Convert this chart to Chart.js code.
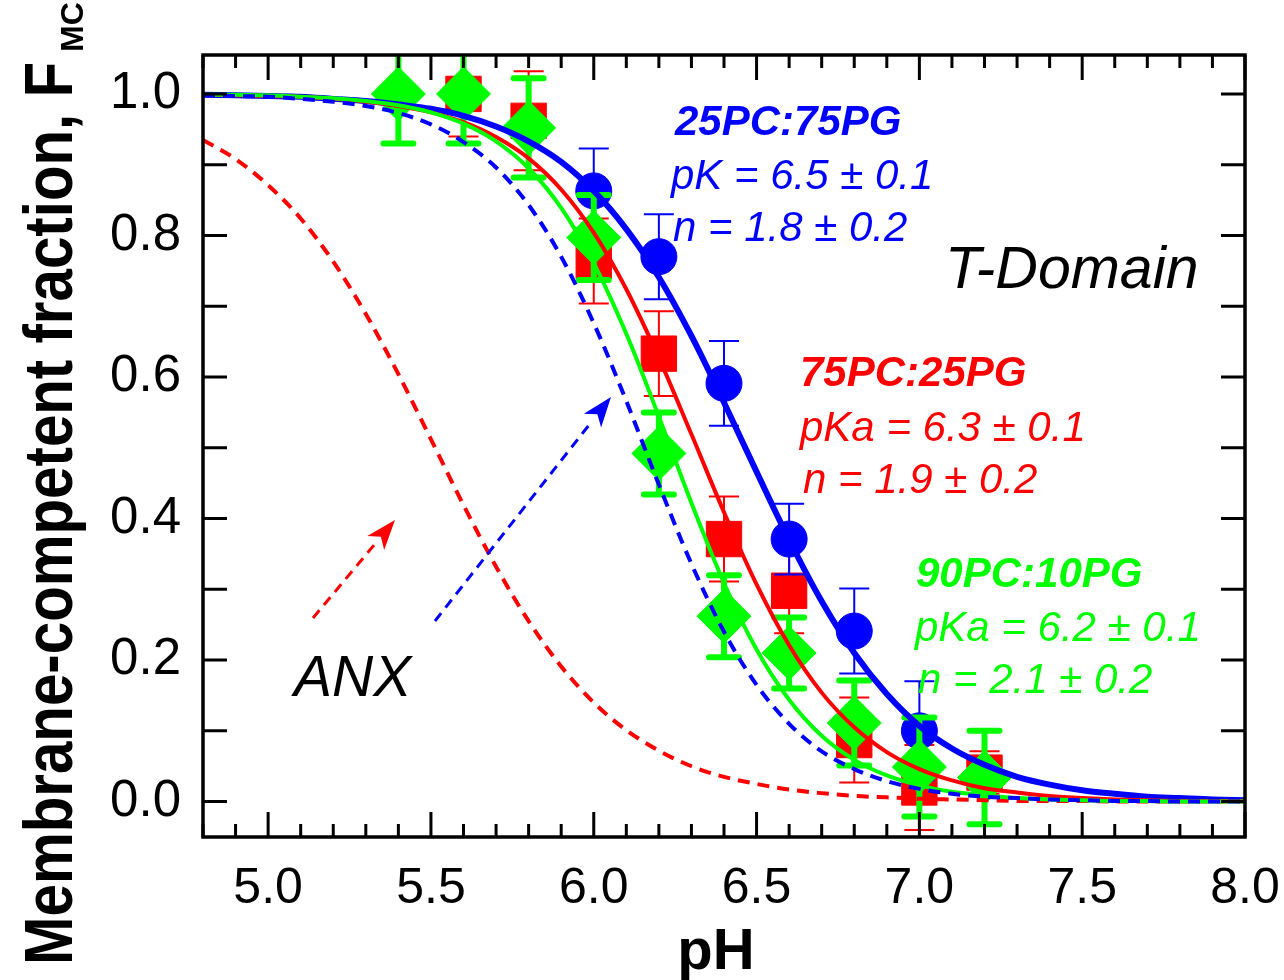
<!DOCTYPE html>
<html>
<head>
<meta charset="utf-8">
<script src="https://cdn.jsdelivr.net/npm/chart.js@4.4.0/dist/chart.umd.min.js"></script>
<style>
  html, body { margin: 0; background: #fff; }
  #wrap { width: 1284px; height: 980px; }
</style>
</head>
<body>
<div id="wrap"><canvas id="c"></canvas></div>
<script>
// tick labels
const xTicks = [5.0, 5.5, 6.0, 6.5, 7.0, 7.5, 8.0];
const yTicks = [0.0, 0.2, 0.4, 0.6, 0.8, 1.0];

// measured points (pH, fraction, error)
const phBlue = [6.0, 6.2, 6.4, 6.6, 6.8, 7.0];
const fBlue = [0.863, 0.770, 0.591, 0.371, 0.241, 0.100];
const errBlue = [0.06, 0.06, 0.06, 0.05, 0.06, 0.07];

const phRed = [5.6, 5.8, 6.0, 6.2, 6.4, 6.6, 6.8, 7.0, 7.2];
const fRed = [1.0, 0.962, 0.764, 0.633, 0.371, 0.298, 0.087, 0.020, 0.041];
const errRed = [0.06, 0.07, 0.06, 0.06, 0.06, 0.06, 0.06, 0.06, 0.03];

const phGreen = [5.4, 5.6, 5.8, 6.0, 6.2, 6.4, 6.6, 6.8, 7.0, 7.2];
const fGreen = [1.0, 1.0, 0.952, 0.797, 0.492, 0.262, 0.210, 0.111, 0.049, 0.034];
const errGreen = [0.07, 0.07, 0.07, 0.06, 0.058, 0.058, 0.05, 0.06, 0.07, 0.066];

// fitted curves, pH 4.8 .. 8.0
const phFit = [4.8, 4.9, 5.0, 5.1, 5.2, 5.3, 5.4, 5.5, 5.6, 5.7, 5.8, 5.9, 6.0,
  6.1, 6.2, 6.3, 6.4, 6.5, 6.6, 6.7, 6.8, 6.9, 7.0,
  7.1, 7.2, 7.3, 7.4, 7.5, 7.6, 7.7, 7.8, 7.9, 8.0];
const fitBlue = [0.999, 0.998, 0.997, 0.996, 0.993, 0.990, 0.985, 0.979, 0.969, 0.954, 0.933, 0.904, 0.863,
  0.809, 0.741, 0.658, 0.564, 0.466, 0.370, 0.283, 0.210, 0.152, 0.107,
  0.075, 0.052, 0.035, 0.024, 0.016, 0.011, 0.007, 0.005, 0.003, 0.002];
const fitRed = [0.999, 0.998, 0.997, 0.996, 0.993, 0.989, 0.983, 0.974, 0.960, 0.939, 0.909, 0.865, 0.804,
  0.724, 0.627, 0.519, 0.409, 0.307, 0.221, 0.154, 0.105, 0.070, 0.046,
  0.030, 0.019, 0.013, 0.008, 0.005, 0.003, 0.002, 0.001, 0.001, 0.001];
const fitGreen = [0.999, 0.999, 0.998, 0.996, 0.994, 0.990, 0.984, 0.974, 0.958, 0.933, 0.895, 0.839, 0.761,
  0.661, 0.544, 0.422, 0.309, 0.215, 0.144, 0.093, 0.059, 0.037, 0.023,
  0.014, 0.009, 0.005, 0.003, 0.002, 0.001, 0.001, 0.000, 0.000, 0.000];
const fitBlueDash = [0.998, 0.997, 0.996, 0.993, 0.989, 0.983, 0.973, 0.957, 0.932, 0.896, 0.843, 0.770, 0.676,
  0.566, 0.448, 0.336, 0.240, 0.165, 0.110, 0.071, 0.046, 0.029, 0.018,
  0.011, 0.007, 0.005, 0.003, 0.002, 0.001, 0.001, 0.000, 0.000, 0.000];
const fitAnx = [0.935, 0.908, 0.871, 0.824, 0.763, 0.689, 0.604, 0.512, 0.419, 0.332, 0.255, 0.191, 0.140,
  0.101, 0.072, 0.050, 0.035, 0.025, 0.017, 0.012, 0.008, 0.006, 0.004,
  0.003, 0.002, 0.001, 0.001, 0.001, 0.000, 0.000, 0.000, 0.000, 0.000];

const BLUE = '#0000ff', RED = '#ff0000', GREEN = '#00ff00';
const FONT = '"Liberation Sans", Arial, sans-serif';

const pts = (xs, ys) => xs.map((x, i) => ({ x: x, y: ys[i] }));

function curve(ys, color, width, dash) {
  return {
    data: pts(phFit, ys),
    showLine: true,
    borderColor: color,
    borderWidth: width,
    borderDash: dash || [],
    pointRadius: 0,
    cubicInterpolationMode: 'monotone',
    fill: false,
  };
}

function marks(xs, ys, errs, color, style, radius, errWidth, capHalf) {
  return {
    data: pts(xs, ys),
    showLine: false,
    pointStyle: style,
    pointRadius: radius,
    backgroundColor: color,
    borderColor: color,
    borderWidth: 1,
    errors: errs,
    errWidth: errWidth,
    capHalf: capHalf,
  };
}

// error bars are drawn just before the dataset's own markers
const errorBars = {
  id: 'errorBars',
  beforeDatasetDraw(chart, args) {
    const ds = chart.data.datasets[args.index];
    if (!ds.errors) return;
    const { ctx, chartArea: a, scales: { x, y } } = chart;
    ctx.save();
    ctx.beginPath();
    ctx.rect(a.left, a.top, a.right - a.left, a.bottom - a.top);
    ctx.clip();
    ctx.strokeStyle = ds.borderColor;
    ctx.lineWidth = ds.errWidth;
    ctx.lineCap = ds.errWidth > 3 ? 'round' : 'butt';
    ds.data.forEach((p, i) => {
      const px = x.getPixelForValue(p.x);
      const top = y.getPixelForValue(p.y + ds.errors[i]);
      const bot = y.getPixelForValue(p.y - ds.errors[i]);
      ctx.beginPath();
      ctx.moveTo(px, top); ctx.lineTo(px, bot);
      ctx.moveTo(px - ds.capHalf, top); ctx.lineTo(px + ds.capHalf, top);
      ctx.moveTo(px - ds.capHalf, bot); ctx.lineTo(px + ds.capHalf, bot);
      ctx.stroke();
    });
    ctx.restore();
  }
};

function arrow(ctx, x0, y0, x1, y1, color) {
  const ang = Math.atan2(y1 - y0, x1 - x0);
  const hl = 30, hw = 11;
  const bx = x1 - hl * Math.cos(ang), by = y1 - hl * Math.sin(ang);
  ctx.save();
  ctx.strokeStyle = color;
  ctx.fillStyle = color;
  ctx.lineWidth = 3;
  ctx.setLineDash([10, 7]);
  ctx.beginPath();
  ctx.moveTo(x0, y0); ctx.lineTo(bx, by);
  ctx.stroke();
  ctx.setLineDash([]);
  ctx.beginPath();
  ctx.moveTo(x1, y1);
  ctx.lineTo(bx + hw * Math.sin(ang), by - hw * Math.cos(ang));
  ctx.lineTo(bx + 8 * Math.cos(ang), by + 8 * Math.sin(ang));
  ctx.lineTo(bx - hw * Math.sin(ang), by + hw * Math.cos(ang));
  ctx.closePath();
  ctx.fill();
  ctx.restore();
}

// frame, inward ticks, titles and labels
const decor = {
  id: 'decor',
  afterDraw(chart) {
    const { ctx, chartArea: a, scales: { x, y } } = chart;
    ctx.save();
    ctx.strokeStyle = '#000';
    ctx.lineWidth = 3;
    for (let i = 48; i <= 80; i++) {
      const px = x.getPixelForValue(i / 10);
      const len = i % 5 === 0 ? 25 : 13;
      ctx.beginPath();
      ctx.moveTo(px, a.bottom); ctx.lineTo(px, a.bottom - len);
      ctx.moveTo(px, a.top); ctx.lineTo(px, a.top + len);
      ctx.stroke();
    }
    for (let i = 0; i <= 10; i++) {
      const py = y.getPixelForValue(i / 10);
      ctx.beginPath();
      ctx.moveTo(a.left, py); ctx.lineTo(a.left + 24, py);
      ctx.moveTo(a.right, py); ctx.lineTo(a.right - 24, py);
      ctx.stroke();
    }
    ctx.lineWidth = 3.5;
    ctx.strokeRect(a.left, a.top, a.right - a.left, a.bottom - a.top);

    // x title
    ctx.fillStyle = '#000';
    ctx.font = 'bold 58px ' + FONT;
    ctx.textAlign = 'center';
    ctx.textBaseline = 'alphabetic';
    ctx.fillText('pH', 716, 969);

    // y title with subscript
    ctx.save();
    ctx.translate(72, 965);
    ctx.rotate(-Math.PI / 2);
    ctx.textAlign = 'left';
    ctx.font = 'bold 68px ' + FONT;
    const main = 'Membrane-competent fraction, F';
    const w = ctx.measureText(main).width;
    const sx = 903 / w;
    ctx.save();
    ctx.scale(sx, 1);
    ctx.fillText(main, 0, 0);
    ctx.restore();
    ctx.font = 'bold 32px ' + FONT;
    ctx.fillText('MC', 913, 11);
    ctx.restore();

    // annotations
    const notes = [
      ['25PC:75PG', 675, 135, BLUE, 'italic bold 42px '],
      ['pK = 6.5 \u00b1 0.1', 671, 189, BLUE, 'italic 42px '],
      ['n = 1.8 \u00b1 0.2', 673, 241, BLUE, 'italic 42px '],
      ['T-Domain', 945, 288, '#000', 'italic 59px '],
      ['75PC:25PG', 800, 386, RED, 'italic bold 42px '],
      ['pKa = 6.3 \u00b1 0.1', 800, 441, RED, 'italic 42px '],
      ['n = 1.9 \u00b1 0.2', 803, 493, RED, 'italic 42px '],
      ['90PC:10PG', 916, 587, GREEN, 'italic bold 42px '],
      ['pKa = 6.2 \u00b1 0.1', 915, 641, GREEN, 'italic 42px '],
      ['n = 2.1 \u00b1 0.2', 918, 693, GREEN, 'italic 42px '],
      ['ANX', 294, 696, '#000', 'italic 57px '],
    ];
    ctx.textAlign = 'left';
    notes.forEach(([t, nx, ny, c, f]) => {
      ctx.fillStyle = c;
      ctx.font = f + FONT;
      ctx.fillText(t, nx, ny);
    });

    arrow(ctx, 313, 618, 395, 520, RED);
    arrow(ctx, 435, 621, 611, 397, BLUE);
    ctx.restore();
  }
};

new Chart(document.getElementById('c'), {
  type: 'scatter',
  plugins: [errorBars, decor],
  data: {
    datasets: [
      curve(fitBlueDash, BLUE, 4, [12, 8]),
      curve(fitGreen, GREEN, 4),
      curve(fitRed, RED, 4),
      curve(fitBlue, BLUE, 6),
      curve(fitAnx, RED, 4, [12, 8]),
      marks(phGreen, fGreen, errGreen, GREEN, 'rectRot', 27, 6, 15),
      marks(phBlue, fBlue, errBlue, BLUE, 'circle', 18, 2, 15),
      marks(phRed, fRed, errRed, RED, 'rect', 25, 2, 15),
    ],
  },
  options: {
    responsive: true,
    maintainAspectRatio: false,
    animation: false,
    layout: { padding: { left: 0, top: 55, right: 39, bottom: 0 } },
    plugins: {
      legend: { display: false },
      tooltip: { enabled: false },
    },
    scales: {
      x: {
        type: 'linear',
        min: 4.8,
        max: 8.0,
        grid: { display: false, drawTicks: false },
        border: { display: false },
        afterBuildTicks: s => { s.ticks = xTicks.map(v => ({ value: v })); },
        afterFit: s => { s.height = 143; s.paddingLeft = 0; s.paddingRight = 0; },
        ticks: {
          padding: 22,
          color: '#000',
          font: { family: FONT, size: 50 },
          callback: v => Number(v).toFixed(1),
        },
      },
      y: {
        type: 'linear',
        min: -0.05,
        max: 1.055,
        grid: { display: false, drawTicks: false },
        border: { display: false },
        afterBuildTicks: s => { s.ticks = yTicks.map(v => ({ value: v })); },
        afterFit: s => { s.width = 203; s.paddingTop = 0; s.paddingBottom = 0; },
        ticks: {
          padding: 22,
          color: '#000',
          font: { family: FONT, size: 51 },
          callback: v => Number(v).toFixed(1),
        },
      },
    },
  },
});
</script>
</body>
</html>
